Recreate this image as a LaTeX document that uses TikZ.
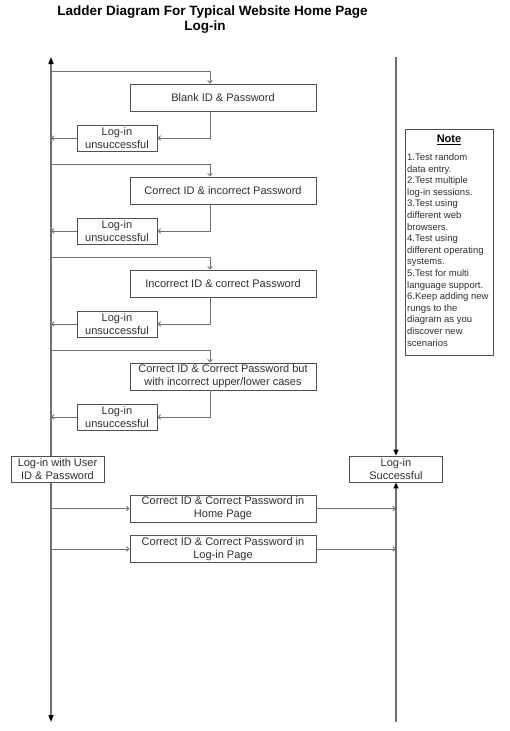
\documentclass[tikz,border=0pt]{standalone}
\usepackage{fontspec}
\setmainfont{Liberation Sans}
\usetikzlibrary{arrows.meta,calc}
\definecolor{linegray}{HTML}{707070}
\definecolor{boxgray}{HTML}{505050}
\definecolor{txtgray}{HTML}{303030}
\begin{document}
\begin{tikzpicture}[x=1pt,y=-1pt,
  box/.style={draw=boxgray, line width=0.9pt, fill=white, text=txtgray,
    font=\fontsize{11}{13}\selectfont, align=center, inner sep=0pt,
    minimum width=186pt, minimum height=27pt},
  ubox/.style={box, minimum width=80pt, minimum height=26pt},
  sbox/.style={box, minimum width=93pt, minimum height=26pt},
  axis/.style={draw=linegray, line width=1.3pt},
  conn/.style={draw=linegray, line width=0.9pt, -{Straight Barb[length=2.5pt,width=4.5pt]}},
  farrow/.style={-{Triangle[length=6pt,width=5pt,color=black]}},
  titlefont/.style={font=\bfseries\fontsize{13.5}{15}\selectfont}
]
\useasboundingbox (0,0) rectangle (509,731);
\fill[white] (0,0) rectangle (509,731);

% title
\node[titlefont, anchor=base] (t1) at (212.5,15) {Ladder Diagram For Typical Website Home Page};
\node[titlefont, anchor=base] (t2) at (205,30) {Log-in};

% lifelines
\coordinate (ltop) at (51,57);
\coordinate (lbot) at (51,722);
\coordinate (rtop) at (396,57);
\coordinate (rbot) at (396,722);
\draw[axis, {Triangle[length=7pt,width=5pt,color=black]}-{Triangle[length=7pt,width=5pt,color=black]}] (ltop) -- (lbot);

% rungs
\node[box] (b1) at (223,97.5) {Blank ID \& Password};
\node[box] (b2) at (223,190.5) {Correct ID \& incorrect Password};
\node[box] (b3) at (223,283.5) {Incorrect ID \& correct Password};
\node[box] (b4) at (223,376.5) {Correct ID \& Correct Password but\\with incorrect upper/lower cases};

\node[ubox] (u1) at (117,138) {Log-in\\unsuccessful};
\node[ubox] (u2) at (117,231) {Log-in\\unsuccessful};
\node[ubox] (u3) at (117,324) {Log-in\\unsuccessful};
\node[ubox] (u4) at (117,417) {Log-in\\unsuccessful};

\coordinate (a1) at (51,71);
\coordinate (a2) at (51,164);
\coordinate (a3) at (51,257);
\coordinate (a4) at (51,350);

\foreach \i in {1,2,3,4}{
  \draw[conn] (a\i) -| ([xshift=-13pt]b\i.north);
  \draw[conn] ([xshift=-13pt]b\i.south) |- (u\i.east);
  \draw[conn] (u\i.west) -- (u\i.west -| ltop);
}

% login / success
\node[sbox] (login) at (57.5,469) {Log-in with User\\ID \& Password};
\node[sbox] (succ) at (396,469) {Log-in\\Successful};
\draw[axis, farrow] (rtop) -- (succ.north);
\draw[axis, farrow] (rbot) -- (succ.south);

\node[box] (h1) at (223,508.5) {Correct ID \& Correct Password in\\Home Page};
\node[box] (h2) at (223,549) {Correct ID \& Correct Password in\\Log-in Page};
\draw[conn] (h1.west -| ltop) -- (h1.west);
\draw[conn] (h1.east) -- (h1.east -| rtop);
\draw[conn] (h2.west -| ltop) -- (h2.west);
\draw[conn] (h2.east) -- (h2.east -| rtop);

% note
\node[draw=boxgray, line width=0.9pt, anchor=north west, inner sep=0pt,
  minimum width=88pt, minimum height=226pt] (note) at (405,129) {};
\node[font=\bfseries\fontsize{11}{13}\selectfont] (noteh) at (449,140) {\underline{Note}};
\node[anchor=north west, align=left, inner sep=0pt, text=txtgray,
  font=\fontsize{9.5}{11.6}\selectfont] (notet) at (407,153.5)
  {1.Test random\\data entry.\\2.Test multiple\\log-in sessions.\\3.Test using\\different web\\browsers.\\4.Test using\\different operating\\systems.\\5.Test for multi\\language support.\\6.Keep adding new\\rungs to the\\diagram as you\\discover new\\scenarios};
\end{tikzpicture}
\end{document}
